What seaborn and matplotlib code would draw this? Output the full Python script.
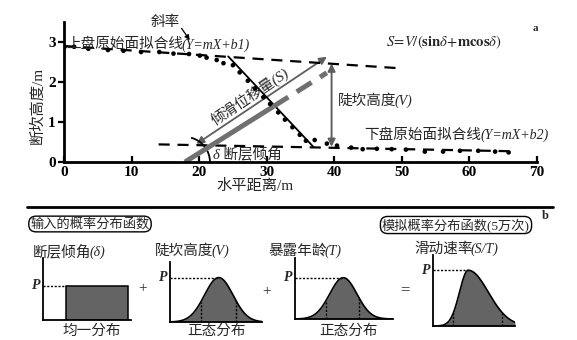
import numpy as np
import matplotlib
matplotlib.use("Agg")
import matplotlib.pyplot as plt
import seaborn as sns
from matplotlib.patches import Arc, FancyArrowPatch

# ---------------- data : panel a ----------------
upper_x = [0.1, 1.5, 3.6, 6.5, 8.8, 11.4, 14.1, 16.2, 18.5, 20.1, 21.1, 22.6, 23.6]
upper_y = [2.88, 2.88, 2.83, 2.80, 2.78, 2.75, 2.75, 2.71, 2.70, 2.66, 2.61, 2.55, 2.47]
scarp_x = [25.0, 26.0, 27.2, 28.3, 29.5, 30.5, 31.7, 32.7, 33.8, 34.9, 35.8, 37.1, 38.9]
scarp_y = [2.42, 2.24, 2.03, 1.84, 1.62, 1.45, 1.24, 1.06, 0.87, 0.68, 0.53, 0.55, 0.46]
lower_x = [40.4, 42.5, 44.2, 46.3, 48.5, 50.6, 53.4, 56.1, 58.6, 61.3, 63.8, 65.8]
lower_y = [0.41, 0.36, 0.32, 0.33, 0.32, 0.31, 0.26, 0.26, 0.28, 0.28, 0.26, 0.24]

upper_fit_x = [0, 50]
upper_fit_y = [2.90, 2.34]
lower_fit_x = [14, 66]
lower_fit_y = [0.44, 0.27]
scarp_line_x = [24.3, 36.9]
scarp_line_y = [2.64, 0.38]
fault_solid_x = [17.9, 31.0]
fault_solid_y = [0.0, 1.39]
fault_dash_x = [31.0, 38.9]
fault_dash_y = [1.39, 2.23]
slip_arrow_x = [38.9, 19.6]
slip_arrow_y = [2.63, 0.45]
height_arrow_x = [39.6, 39.6]
height_arrow_y = [0.38, 2.46]
slope_arrow_x = [17.4, 18.6]
slope_arrow_y = [3.34, 3.05]

x_ticks = [0, 10, 20, 30, 40, 50, 60, 70]
y_ticks = [0, 1, 2, 3]

# ---------------- data : panel b ----------------
uniform_range = [0.258, 0.963]
uniform_p = 0.553
v_mean, v_sd, v_peak = 0.53, 0.155, 0.74
v_marks = [0.333, 0.713]
t_mean, t_sd, t_peak = 0.493, 0.139, 0.677
t_marks = [0.313, 0.656]
r_mode, r_sd_left, r_sd_right, r_peak = 0.43, 0.107, 0.245, 0.785
r_marks = [0.248, 0.838]

# ---------------- style ----------------
sns.set_theme(style="ticks")
plt.rcParams['font.family'] = ['Liberation Serif', 'Noto Sans CJK SC']
plt.rcParams['mathtext.fontset'] = 'stix'
plt.rcParams['axes.unicode_minus'] = False

W, H = 577, 340
fig = plt.figure(figsize=(W / 100, H / 100), dpi=100)
fig.patch.set_facecolor('white')

def px_axes(l, t, r, b):
    return fig.add_axes([l / W, 1 - b / H, (r - l) / W, (b - t) / H])

def fp(x, y):
    return x / W, 1 - y / H

FS = 10.5
LFS = 10
GREY = '#5e5e5e'
FILL = '#646464'

pending = []

def mixed(x, y, cjk, latin, transform, fs=FS, lfs=LFS):
    """CJK part (regular) followed on the same baseline by an italic latin part."""
    t1 = fig.text(x, y, cjk, fontsize=fs, ha='left', va='baseline', transform=transform)
    pending.append((t1, x, y, transform, latin, lfs))
    return t1

def place_pending():
    renderer = fig.canvas.get_renderer()
    for t1, x, y, tr, latin, lfs in pending:
        bb = t1.get_window_extent(renderer)
        _, ydisp = tr.transform((x, y))
        fx, fy = fig.transFigure.inverted().transform((bb.x1 - 1.5, ydisp))
        fig.text(fx, fy, latin, fontsize=lfs, style='italic', ha='left', va='baseline')

# ================= panel a =================
ax = px_axes(64, 22, 537, 162)
ax.set_xlim(0, 70)
ax.set_ylim(0, 3.5)
ax.set_facecolor('white')
for s in ['top', 'right']:
    ax.spines[s].set_visible(False)
for s in ['left', 'bottom']:
    ax.spines[s].set_linewidth(2.0)
    ax.spines[s].set_color('black')
ax.set_xticks(x_ticks)
ax.set_yticks(y_ticks)
ax.set_xticklabels([str(v) for v in x_ticks], fontsize=11, fontweight='bold')
ax.set_yticklabels([str(v) for v in y_ticks], fontsize=11, fontweight='bold')
ax.tick_params(axis='x', direction='in', length=4, width=1.6, pad=3, colors='black')
ax.tick_params(axis='y', direction='out', length=4, width=1.6, pad=2, colors='black')
ax.set_xlabel('水平距离/m', fontsize=11, va='center')
ax.xaxis.set_label_coords((255 - 64) / 473, (162 - 186) / 140)
ax.set_ylabel('断坎高度/m', fontsize=11, va='center')
ax.yaxis.set_label_coords((37 - 64) / 473, (162 - 105) / 140)

# fit lines
sns.lineplot(x=upper_fit_x, y=upper_fit_y, ax=ax, color='black', lw=1.6,
             linestyle=(0, (5, 3.5)))
sns.lineplot(x=lower_fit_x, y=lower_fit_y, ax=ax, color='black', lw=1.6,
             linestyle=(0, (5, 3.5)))
# scarp line
sns.lineplot(x=scarp_line_x, y=scarp_line_y, ax=ax, color='black', lw=1.3)
# fault plane
sns.lineplot(x=fault_solid_x, y=fault_solid_y, ax=ax, color='#707070', lw=3.6,
             solid_capstyle='butt')
sns.lineplot(x=fault_dash_x, y=fault_dash_y, ax=ax, color='#707070', lw=3.6,
             linestyle=(0, (3.5, 2)), solid_capstyle='butt')
# points
pts_x = upper_x + scarp_x + lower_x
pts_y = upper_y + scarp_y + lower_y
sns.scatterplot(x=pts_x, y=pts_y, ax=ax, color='black', s=11, edgecolor='none', zorder=5)

# arrows
ax.add_patch(FancyArrowPatch((slip_arrow_x[0], slip_arrow_y[0]), (slip_arrow_x[1], slip_arrow_y[1]),
                             arrowstyle='<|-|>', mutation_scale=11, color=GREY, lw=1.3,
                             shrinkA=0, shrinkB=0))
ax.add_patch(FancyArrowPatch((height_arrow_x[0], height_arrow_y[0]), (height_arrow_x[1], height_arrow_y[1]),
                             arrowstyle='<|-|>', mutation_scale=11, color=GREY, lw=1.4,
                             shrinkA=0, shrinkB=0))
ax.add_patch(FancyArrowPatch((slope_arrow_x[0], slope_arrow_y[0]), (slope_arrow_x[1], slope_arrow_y[1]),
                             arrowstyle='-|>', mutation_scale=7, color='black', lw=0.9,
                             shrinkA=0, shrinkB=0, clip_on=False))
# dip angle arc
ax.add_patch(Arc((fault_solid_x[0], 0), width=2 * 25 / 6.757, height=2 * 25 / 40,
                 theta1=0, theta2=34, color='black', lw=1.3))

# annotations (panel a)
mixed(0.3, 2.84, '上盘原始面拟合线', '(Y=mX+b1)', ax.transData)
ax.text(14.95, 3.5, '斜率', fontsize=FS, ha='center', va='center', clip_on=False)
mixed(44.5, 0.57, '下盘原始面拟合线', '(Y=mX+b2)', ax.transData)
mixed(40.5, 1.43, '陡坎高度', '(V)', ax.transData)
ax.text(47.7, 3.0, r'$S\!=\!V/(\mathbf{sin}\delta\!+\!\mathbf{mcos}\delta)$', fontsize=FS,
        ha='left', va='center')
ax.text(69.7, 3.33, 'a', fontsize=8, fontweight='bold', ha='center', va='center')
ax.text(27.7, 1.63, '倾滑位移量(S)', fontsize=FS, style='italic', rotation=34,
        rotation_mode='anchor', ha='center', va='center')
ax.text(22.0, 0.19, 'δ 断层倾角', fontsize=FS, style='italic', ha='left', va='center')

# ================= panel b =================
fig.add_artist(plt.Line2D([27 / W, 553 / W], [1 - 207 / H, 1 - 207 / H],
                          color='black', lw=2.0))
box = dict(boxstyle='round,pad=0.12,rounding_size=0.55', fc='white', ec='black', lw=1.0)
fig.text(*fp(90, 224), '输入的概率分布函数', fontsize=9.5, ha='center', va='center', bbox=box)
fig.text(*fp(456, 225), '模拟概率分布函数(5万次)', fontsize=9.5, ha='center', va='center', bbox=box)
fig.text(*fp(545, 216), 'b', fontsize=9, fontweight='bold', ha='center', va='center')

def small_axes(l, t, r, b):
    a = px_axes(l, t, r, b)
    a.set_xlim(0, 1)
    a.set_ylim(0, 1)
    a.set_facecolor('none')
    for s in ['top', 'right']:
        a.spines[s].set_visible(False)
    for s in ['left', 'bottom']:
        a.spines[s].set_linewidth(1.3)
        a.spines[s].set_color('black')
    a.set_xticks([])
    a.set_yticks([])
    return a

def p_label(a, y, xend):
    a.plot([0, xend], [y, y], color='black', lw=1.0, linestyle=(0, (1.5, 1.2)))
    a.text(-0.03, y, 'P', fontsize=10, style='italic', fontweight='bold',
           ha='right', va='center', transform=a.transData, clip_on=False)

xs = np.linspace(0, 1, 400)

# uniform
a1 = small_axes(43, 258, 131, 320)
a1.bar((uniform_range[0] + uniform_range[1]) / 2, uniform_p,
       width=uniform_range[1] - uniform_range[0], color=FILL, edgecolor='black', lw=1.1)
p_label(a1, uniform_p, uniform_range[0])

def normal_panel(a, mean, sd, peak, marks):
    ys = peak * np.exp(-0.5 * ((xs - mean) / sd) ** 2)
    a.fill_between(xs, 0, ys, color=FILL, lw=0)
    sns.lineplot(x=xs, y=ys, ax=a, color='black', lw=1.2)
    for m in marks:
        h = peak * np.exp(-0.5 * ((m - mean) / sd) ** 2)
        a.plot([m, m], [0, h], color='black', lw=1.0, linestyle=(0, (1.5, 1.2)))
    p_label(a, peak, mean)

a2 = small_axes(170, 262, 262, 322)
normal_panel(a2, v_mean, v_sd, v_peak, v_marks)
a3 = small_axes(295, 258, 393, 319)
normal_panel(a3, t_mean, t_sd, t_peak, t_marks)

# skewed result
a4 = small_axes(433, 255, 515, 326)
sd_r = np.where(xs < r_mode, r_sd_left, r_sd_right)
ys4 = r_peak * np.exp(-0.5 * ((xs - r_mode) / sd_r) ** 2)
a4.fill_between(xs, 0, ys4, color=FILL, lw=0)
sns.lineplot(x=xs, y=ys4, ax=a4, color='black', lw=1.2)
for m in r_marks:
    sdm = r_sd_left if m < r_mode else r_sd_right
    h = r_peak * np.exp(-0.5 * ((m - r_mode) / sdm) ** 2)
    a4.plot([m, m], [0, h], color='black', lw=1.0, linestyle=(0, (1.5, 1.2)))
p_label(a4, r_peak, r_mode)

# titles / operators / captions
mixed(*fp(33, 256), '断层倾角', '(δ)', fig.transFigure)
mixed(*fp(155, 255), '陡坎高度', '(V)', fig.transFigure)
mixed(*fp(268, 255), '暴露年龄', '(T)', fig.transFigure)
mixed(*fp(414, 253), '滑动速率', '(S/T)', fig.transFigure)
fig.text(*fp(143, 289), '+', fontsize=11, ha='center', va='center')
fig.text(*fp(267, 292), '+', fontsize=11, ha='center', va='center')
fig.text(*fp(405, 290), '=', fontsize=12, ha='center', va='center')
fig.text(*fp(92, 331), '均一分布', fontsize=FS, ha='center', va='center')
fig.text(*fp(217, 331), '正态分布', fontsize=FS, ha='center', va='center')
fig.text(*fp(348, 331), '正态分布', fontsize=FS, ha='center', va='center')

place_pending()
fig.savefig('out.png', dpi=100, facecolor='white')
